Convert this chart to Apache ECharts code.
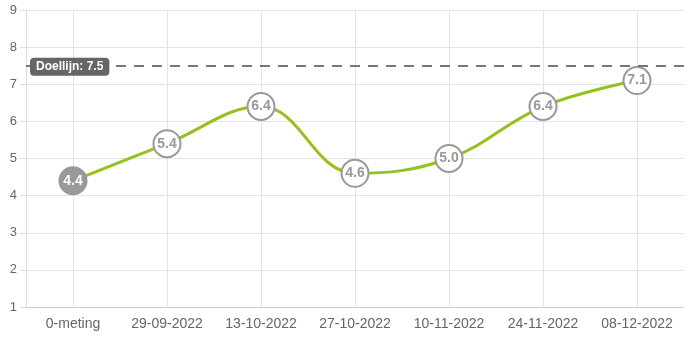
<!DOCTYPE html>
<html><head><meta charset="utf-8">
<script src="https://cdn.jsdelivr.net/npm/echarts@6/dist/echarts.min.js"></script>
<style>html,body{margin:0;padding:0;background:#fff}#c{width:685px;height:338px}</style>
</head><body><div id="c"></div>
<script>
const categories = ['0-meting','29-09-2022','13-10-2022','27-10-2022','10-11-2022','24-11-2022','08-12-2022'];
const scores = [4.4, 5.4, 6.4, 4.6, 5.0, 6.4, 7.1];
const targetValue = 7.5;
const targetLabel = 'Doellijn';
const yTicks = [1,2,3,4,5,6,7,8,9];

const font = 'Liberation Sans, Arial, sans-serif';
const chart = echarts.init(document.getElementById('c'));
const data = scores.map((v, i) => i === 0 ? {
  value: v,
  itemStyle: { color: '#999', borderColor: '#999' },
  label: { color: '#fff' }
} : { value: v });

chart.setOption({
  animation: false,
  textStyle: { fontFamily: font },
  grid: { left: 26, right: 1, top: 10, bottom: 31 },
  xAxis: {
    type: 'category', data: categories, boundaryGap: true,
    axisLine: { lineStyle: { color: '#ccc' } },
    axisTick: { alignWithLabel: true, length: 6, lineStyle: { color: '#ddd' } },
    axisLabel: { color: '#666', fontSize: 14, fontFamily: font, margin: 10 },
    splitLine: { show: true, alignWithLabel: true, lineStyle: { color: '#e4e4e4' } }
  },
  yAxis: {
    type: 'value', min: yTicks[0], max: yTicks[yTicks.length - 1], interval: 1,
    axisLine: { show: true, lineStyle: { color: '#ddd' } },
    axisTick: { show: true, length: 6, lineStyle: { color: '#ddd' } },
    axisLabel: { color: '#666', fontSize: 13, fontFamily: font, margin: 9 },
    splitLine: { lineStyle: { color: '#e4e4e4' } }
  },
  series: [{
    type: 'line', data: data, smooth: 0.4,
    symbol: 'circle', symbolSize: 27,
    lineStyle: { color: '#95c11f', width: 3 },
    itemStyle: { color: '#fff', borderColor: '#999', borderWidth: 2 },
    label: { show: true, position: 'inside', color: '#999', fontWeight: 'bold', fontSize: 14, fontFamily: font,
      formatter: p => p.value.toFixed(1) },
    markLine: {
      silent: true, symbol: 'none',
      lineStyle: { color: '#777', type: [10, 8], width: 2 },
      label: {
        position: 'insideStartTop', distance: [4, -10],
        formatter: targetLabel + ': ' + targetValue,
        color: '#fff', backgroundColor: '#666', borderRadius: 4, padding: [3, 6, 3, 6],
        fontWeight: 'bold', fontSize: 12, fontFamily: font
      },
      data: [{ yAxis: targetValue }]
    },
    z: 3
  }]
});
</script></body></html>
